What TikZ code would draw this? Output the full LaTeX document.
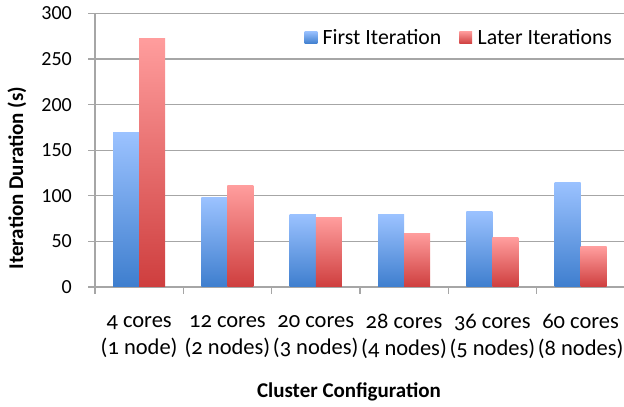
\documentclass[tikz,border=0pt]{standalone}
\usepackage{fontspec}
\setmainfont{Carlito}
\definecolor{bluetop}{RGB}{155,194,255}
\definecolor{bluebot}{RGB}{62,126,206}
\definecolor{redtop}{RGB}{255,157,157}
\definecolor{redbot}{RGB}{206,62,62}
\definecolor{gridgray}{RGB}{166,166,166}
\tikzset{
  firstbar/.style={top color=bluetop,bottom color=bluebot,draw=none},
  laterbar/.style={top color=redtop,bottom color=redbot,draw=none},
  gridln/.style={gridgray,line width=1.2pt},
  ticklab/.style={anchor=east,font=\fontsize{20}{24}\selectfont,inner sep=0pt},
  catlab/.style={align=center,font=\fontsize{22.5}{27}\selectfont\addfontfeatures{Numbers=OldStyle},inner sep=0pt},
  legtext/.style={anchor=west,font=\fontsize{21.8}{25}\selectfont,inner sep=0pt}
}
\begin{document}
\begin{tikzpicture}[x=1pt,y=1pt,line cap=butt]
  \useasboundingbox (0,0) rectangle (624,407);
  \begin{scope}[shift={(95,120)},x=88.3pt,y=0.9117pt]
    % gridlines and value labels
    \foreach \v in {0,50,...,300}{
      \draw[gridln] (0,\v) coordinate (g\v) ++(-7pt,0) -- (6,\v);
      \node[ticklab] (yl\v) at ([xshift=-23pt]g\v) {\v};
    }
    \draw[gridln] (0,0) -- (0,300);
    \foreach \k in {0,...,6} \draw[gridln] (\k,0) -- ++(0,-7pt);
    % bars
    \foreach \k/\f/\l in {1/169/273,2/98/111,3/80/76,4/79/59,5/83/54,6/115/44}{
      \shade[firstbar] (\k-0.7945,0) rectangle (\k-0.5,\f);
      \shade[laterbar] (\k-0.5,0) rectangle (\k-0.2055,\l);
    }
    % category labels
    \foreach \k/\c/\n in {1/4 cores/1 node,2/12 cores/2 nodes,3/20 cores/3 nodes,
                          4/28 cores/4 nodes,5/36 cores/5 nodes,6/60 cores/8 nodes}
      \node[catlab] (cat\k) at (\k-0.5,-54.3) {\c\\(\n)};
  \end{scope}
  % legend
  \shade[firstbar] (304.6,363.2) rectangle ++(12.7,12.7);
  \node[legtext] (legfirst) at (322.5,369.5) {First Iteration};
  \shade[laterbar] (459.3,363.2) rectangle ++(12.7,12.7);
  \node[legtext] (leglater) at (477.5,369.5) {Later Iterations};
  % axis titles
  \node[font=\fontsize{21}{24}\selectfont\bfseries,rotate=90] (ytitle) at (17,229) {Iteration Duration (s)};
  \node[font=\fontsize{21}{24}\selectfont\bfseries] (xtitle) at (349,15) {Cluster Configuration};
\end{tikzpicture}
\end{document}
